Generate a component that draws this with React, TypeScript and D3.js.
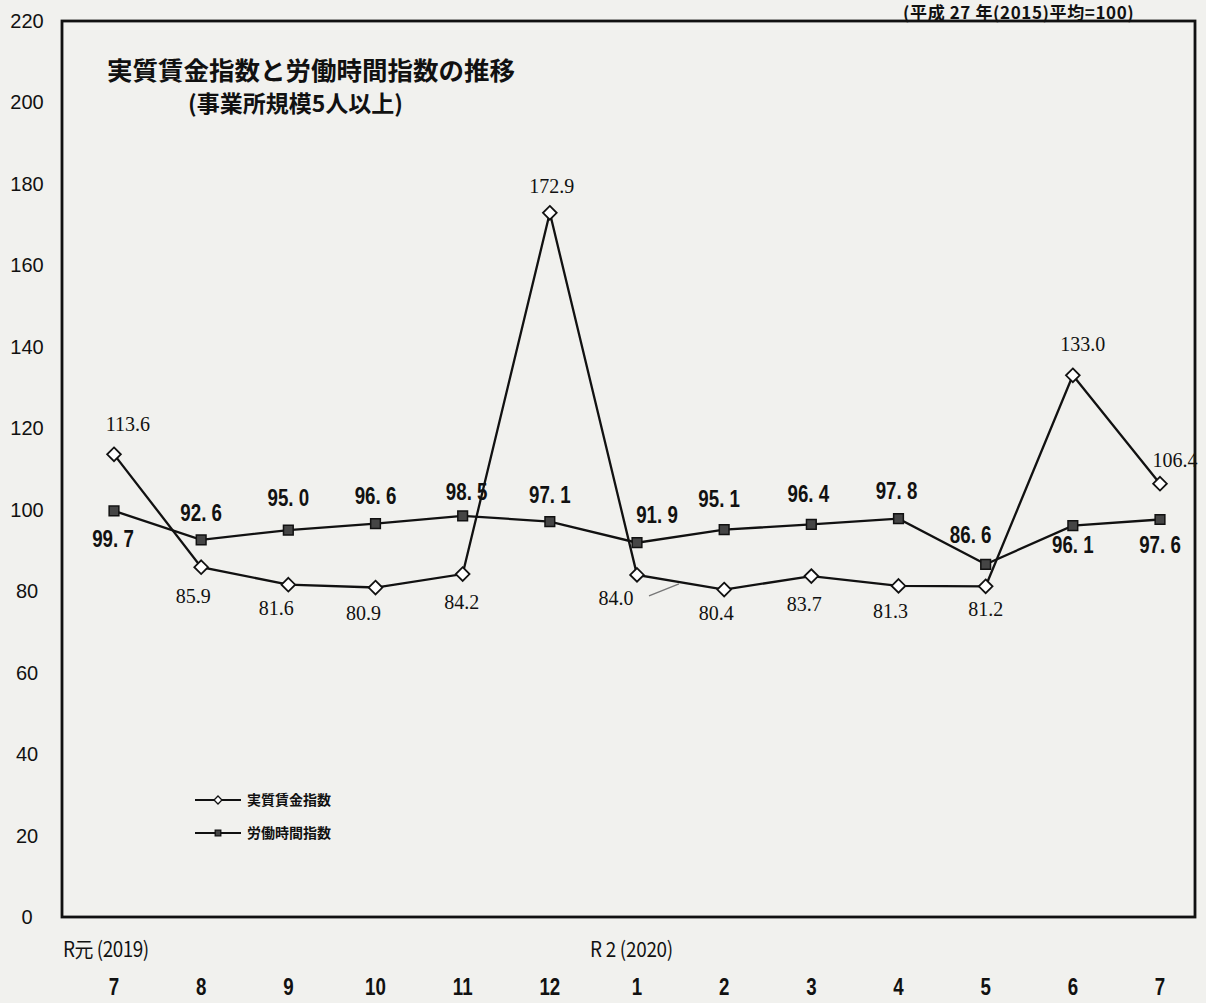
import React from "react";
import * as d3 from "d3";

const months = ["7", "8", "9", "10", "11", "12", "1", "2", "3", "4", "5", "6", "7"];
const wageIndex = [113.6, 85.9, 81.6, 80.9, 84.2, 172.9, 84.0, 80.4, 83.7, 81.3, 81.2, 133.0, 106.4];
const hoursIndex = [99.7, 92.6, 95.0, 96.6, 98.5, 97.1, 91.9, 95.1, 96.4, 97.8, 86.6, 96.1, 97.6];
const yTicks = [0, 20, 40, 60, 80, 100, 120, 140, 160, 180, 200, 220];

// label placement relative to each point [dx, dy]
const wageLabelOffsets = [
  [14, -23], [-8, 36], [-12, 30], [-12, 32], [-1, 35], [2, -20], [-21, 30],
  [-8, 30], [-7, 35], [-8, 32], [0, 30], [10, -24], [15, -17],
];
const hoursLabelOffsets = [
  [-1, 36], [0, -19], [0, -24], [0, -20], [4, -16], [0, -19], [20, -20],
  [-5, -23], [-3, -22], [-2, -20], [-15, -21], [0, 27], [0, 33],
];

const W = 1206;
const H = 1003;
const frame = { left: 62, right: 1195, top: 21, bottom: 917 };

const jp = "'Noto Sans CJK JP', 'Noto Sans', sans-serif";
const sans = "'Liberation Sans', Arial, sans-serif";
const serif = "'Liberation Serif', 'DejaVu Serif', serif";

function fmtHours(v: number) {
  return v.toFixed(1).replace(".", ". ");
}

// condensed text, the scan uses a narrow face
function Narrow({ x, y, size, bold, children }: { x: number; y: number; size: number; bold?: boolean; children: React.ReactNode }) {
  return (
    <text
      transform={`translate(${x},${y}) scale(0.78,1)`}
      textAnchor="middle"
      fontFamily={sans}
      fontWeight={bold ? "bold" : "normal"}
      fontSize={size}
      fill="#111"
    >
      {children}
    </text>
  );
}

export default function App() {
  const x = d3
    .scalePoint<number>()
    .domain(months.map((_, i) => i))
    .range([114, 1160]);

  const y = d3.scaleLinear().domain([0, 220]).range([frame.bottom, frame.top]);

  const line = d3
    .line<number>()
    .x((_, i) => x(i)!)
    .y((d) => y(d));

  const diamond = d3.symbol().type(d3.symbolDiamond2).size(120)();
  const square = d3.symbol().type(d3.symbolSquare2).size(120)();
  const smallDiamond = d3.symbol().type(d3.symbolDiamond2).size(40)();
  const smallSquare = d3.symbol().type(d3.symbolSquare2).size(40)();

  return (
    <svg
      width={W}
      height={H}
      style={{ position: "absolute", left: 0, top: 0, display: "block" }}
    >
      <rect width={W} height={H} fill="#f1f1ee" />

      {/* plot frame */}
      <rect
        x={frame.left}
        y={frame.top}
        width={frame.right - frame.left}
        height={frame.bottom - frame.top}
        fill="none"
        stroke="#111"
        strokeWidth={2.8}
      />

      {/* y axis labels */}
      {yTicks.map((t) => (
        <text
          key={t}
          x={27}
          y={y(t)}
          dy="0.35em"
          textAnchor="middle"
          fontFamily={sans}
          fontSize={20}
          fill="#111"
        >
          {t}
        </text>
      ))}

      {/* x axis labels */}
      {months.map((m, i) => (
        <Narrow key={i} x={x(i)!} y={995} size={24} bold>
          {m}
        </Narrow>
      ))}
      <text
        transform="translate(63,957) scale(0.9,1)"
        fontFamily={jp}
        fontSize={21}
        fill="#111"
        letterSpacing={-0.5}
      >
        R元 (2019)
      </text>
      <text
        transform="translate(590,957) scale(0.9,1)"
        fontFamily={jp}
        fontSize={21}
        fill="#111"
        letterSpacing={-0.3}
      >
        R 2 (2020)
      </text>

      {/* titles */}
      <text x={107} y={80} fontFamily={jp} fontWeight="bold" fontSize={25.5} fill="#111">
        実質賃金指数と労働時間指数の推移
      </text>
      <text x={188} y={112} fontFamily={jp} fontWeight="bold" fontSize={23} fill="#111">
        (事業所規模5人以上)
      </text>
      <text x={903} y={19} fontFamily={jp} fontWeight="bold" fontSize={17} fill="#111" letterSpacing={0.6}>
        (平成 27 年(2015)平均=100)
      </text>

      {/* lines */}
      <path d={line(hoursIndex) ?? ""} fill="none" stroke="#111" strokeWidth={2.3} />
      <path d={line(wageIndex) ?? ""} fill="none" stroke="#111" strokeWidth={2.3} />

      {/* leader for 84.0 */}
      <line
        x1={x(6)! + 12}
        y1={y(wageIndex[6]) + 21}
        x2={x(6)! + 42}
        y2={y(wageIndex[6]) + 9}
        stroke="#777"
        strokeWidth={1.2}
      />

      {/* markers */}
      {hoursIndex.map((v, i) => (
        <path
          key={`h${i}`}
          d={square ?? ""}
          transform={`translate(${x(i)},${y(v)})`}
          fill="#454545"
          stroke="#111"
          strokeWidth={1.5}
        />
      ))}
      {wageIndex.map((v, i) => (
        <path
          key={`w${i}`}
          d={diamond ?? ""}
          transform={`translate(${x(i)},${y(v)})`}
          fill="#fff"
          stroke="#111"
          strokeWidth={1.8}
        />
      ))}

      {/* data labels */}
      {hoursIndex.map((v, i) => (
        <Narrow
          key={`hl${i}`}
          x={x(i)! + hoursLabelOffsets[i][0]}
          y={y(v) + hoursLabelOffsets[i][1]}
          size={24}
          bold
        >
          {fmtHours(v)}
        </Narrow>
      ))}
      {wageIndex.map((v, i) => (
        <text
          key={`wl${i}`}
          x={x(i)! + wageLabelOffsets[i][0]}
          y={y(v) + wageLabelOffsets[i][1]}
          textAnchor="middle"
          fontFamily={serif}
          fontSize={20}
          fill="#111"
        >
          {v.toFixed(1)}
        </text>
      ))}

      {/* legend */}
      <g transform="translate(195,800)">
        <line x1={0} x2={46} y1={0} y2={0} stroke="#111" strokeWidth={2.2} />
        <path d={smallDiamond ?? ""} transform="translate(23,0)" fill="#fff" stroke="#111" strokeWidth={1.3} />
        <text x={52} y={0} dy="0.35em" fontFamily={jp} fontWeight="bold" fontSize={14} fill="#111">
          実質賃金指数
        </text>
      </g>
      <g transform="translate(195,833)">
        <line x1={0} x2={46} y1={0} y2={0} stroke="#111" strokeWidth={2.2} />
        <path d={smallSquare ?? ""} transform="translate(23,0)" fill="#454545" stroke="#111" strokeWidth={1.3} />
        <text x={52} y={0} dy="0.35em" fontFamily={jp} fontWeight="bold" fontSize={14} fill="#111">
          労働時間指数
        </text>
      </g>
    </svg>
  );
}
